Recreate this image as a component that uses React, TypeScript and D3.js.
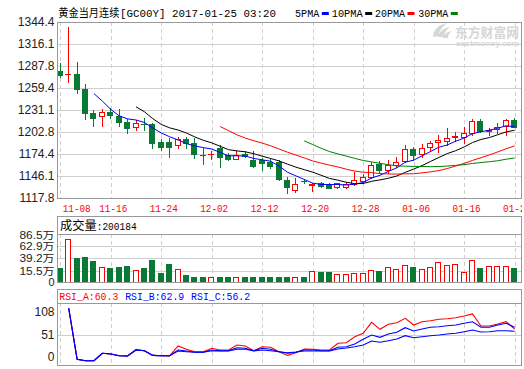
import React from "react";
import * as d3 from "d3";

// ---------- DATA ----------
const dates = ["11-08","11-09","11-10","11-11","11-14","11-15","11-16","11-17","11-18","11-21","11-22","11-23","11-24","11-25","11-28","11-29","11-30","12-01","12-02","12-05","12-06","12-07","12-08","12-09","12-12","12-13","12-14","12-15","12-16","12-19","12-20","12-21","12-22","12-23","12-26","12-27","12-28","12-29","12-30","01-03","01-04","01-05","01-06","01-09","01-10","01-11","01-12","01-13","01-16","01-17","01-18","01-19","01-20","01-23","01-24"];

const openVals = [1281.3,1277.0,1277.5,1258.1,1226.8,1223.4,1228.9,1223.4,1215.3,1208.8,1212.9,1212.7,1189.9,1189.9,1186.0,1193.8,1188.2,1173.4,1174.2,1182.6,1173.2,1168.4,1174.4,1166.7,1166.7,1164.5,1164.5,1141.0,1128.1,1140.0,1135.0,1136.7,1135.4,1131.6,1131.6,1135.8,1140.1,1144.5,1161.2,1153.9,1160.3,1165.8,1180.9,1174.1,1183.1,1189.5,1191.6,1195.9,1195.9,1201.9,1217.3,1204.0,1206.2,1210.5,1218.2];
const closeVals = [1276.2,1277.8,1258.1,1227.6,1221.2,1228.1,1224.7,1216.0,1208.3,1214.0,1212.5,1189.0,1183.8,1183.8,1193.4,1189.0,1174.1,1173.0,1174.8,1171.0,1168.4,1173.2,1171.9,1159.0,1162.5,1159.0,1142.3,1132.3,1135.4,1139.2,1135.6,1133.6,1131.1,1136.7,1135.4,1141.0,1144.5,1160.3,1153.9,1160.3,1164.5,1180.5,1173.2,1181.8,1188.2,1192.5,1194.7,1197.6,1201.9,1216.9,1204.5,1205.0,1209.6,1218.2,1209.6];
const highVals = [1292.0,1338.3,1292.9,1264.6,1231.1,1232.0,1233.3,1232.0,1219.1,1218.2,1220.4,1214.0,1193.8,1194.7,1196.7,1196.7,1194.7,1181.8,1178.7,1186.0,1176.1,1178.7,1178.3,1178.3,1168.9,1167.6,1166.7,1145.2,1143.2,1141.9,1136.7,1138.8,1136.7,1137.5,1138.8,1151.7,1148.7,1164.5,1165.8,1166.7,1170.2,1186.0,1183.8,1187.3,1191.6,1198.9,1207.5,1203.2,1208.8,1219.1,1219.1,1207.5,1214.7,1219.5,1221.2];
const lowVals = [1273.2,1267.5,1252.6,1219.1,1210.9,1210.9,1220.4,1210.9,1201.9,1205.4,1205.4,1181.8,1179.6,1171.0,1182.6,1181.8,1168.9,1161.2,1167.6,1158.1,1166.7,1167.6,1171.0,1158.1,1153.9,1156.0,1141.0,1124.6,1125.9,1137.5,1127.2,1132.3,1130.3,1131.1,1130.3,1134.5,1136.7,1144.0,1151.7,1149.6,1158.1,1164.5,1166.7,1171.0,1178.7,1177.4,1186.0,1191.6,1188.2,1198.9,1203.2,1198.9,1201.1,1198.9,1208.8];

// volume in 万 (as drawn)
const volumeVals = [21.4,76.8,40.7,42.6,34.3,22.7,21.4,22.2,24.7,16.9,20.8,36.3,11.7,28.5,18.9,7.3,3.4,3.4,3.4,3.4,3.4,3.4,3.4,3.4,3.4,3.4,3.4,3.4,2.8,4.0,14.4,12.5,12.5,9.2,9.2,10.6,11.2,16.4,14.4,22.7,18.9,26.0,22.7,18.9,22.7,31.8,26.6,28.0,12.5,35.7,21.4,24.7,24.7,24.7,21.4];
const lastVolume = 200184;

const rsiA = [null,116.6,-10.3,-13.8,-13.8,4.6,2.9,-1.4,-2.1,14.6,11.1,-0.6,-1.4,-1.8,22.8,14.6,8.6,8.6,17.0,12.8,12.8,25.2,22.8,11.1,21.0,19.5,8.6,-0.6,6.1,15.3,14.6,12.8,12.8,29.5,31.0,45.9,54.4,81.7,64.3,76.8,80.7,91.7,75.0,83.2,85.7,89.2,90.7,93.2,97.4,102.4,72.5,72.5,77.5,83.2,65.1];
const rsiB = [null,116.6,-10.3,-13.8,-13.8,4.6,2.9,-1.4,-2.1,12.8,11.1,-0.6,-1.4,-1.4,12.8,10.3,7.1,7.1,12.8,11.1,11.1,18.5,17.0,11.1,17.0,14.6,8.6,4.6,7.1,12.8,12.8,11.1,11.1,19.5,21.0,27.7,39.4,50.1,44.4,52.6,56.8,68.3,60.1,65.1,69.3,70.8,73.3,75.0,79.2,83.2,69.3,69.3,75.0,79.2,69.3];
const rsiC = [null,116.6,-10.3,-13.8,-13.8,4.6,2.9,-1.4,-2.1,12.8,11.1,-0.6,-1.4,-1.4,10.3,8.6,7.1,7.1,11.1,10.3,10.3,14.6,14.6,10.3,12.8,11.1,8.6,6.1,7.8,10.3,10.3,10.3,10.3,15.3,17.8,21.0,25.2,35.2,32.0,36.0,40.2,48.4,43.4,45.9,48.4,50.1,52.6,54.4,58.3,62.6,57.6,58.3,60.8,60.8,59.3];
const rsiNames = ["RSI_A", "RSI_B", "RSI_C"];
const rsiLast = [60.3, 62.9, 56.2];
const rsiColors = ["#ff0000", "#0000ff", "#0000ff"];

const priceTicks = [1117.8,1146.1,1174.4,1202.8,1231.1,1259.4,1287.8,1316.1,1344.4];
const volTicks = [86.5, 62.9, 39.2, 15.5];
const rsiTicks = [108, 51, 0];

const maNames = ["5PMA", "10PMA", "20PMA", "30PMA"];
const maPeriods = [5, 10, 20, 30];
const maColors = ["#0000ff", "#000000", "#ff0000", "#008000"];

const titleName = "黄金当月连续";
const titleInfo = "[GC00Y] 2017-01-25 03:20";

// ---------- LAYOUT ----------
const W = 524, H = 369;
const xL = 57, xR = 521;
const RED = "#ff0000";
const GREEN = "#087a36";
const FRAME = "#999999";
const GRID = "#cfcfcf";
const AXIS_FONT = "'Liberation Sans', Arial, sans-serif";
const MONO = "'Liberation Mono', 'DejaVu Sans Mono', monospace";
const CJK = "'Noto Sans CJK SC', sans-serif";

const c = (v: number) => Math.round(v) + 0.5;

export default function App() {
  const n = dates.length;
  const x = d3.scaleLinear().domain([0, n - 1]).range([60.3, 514.6]);
  const y = d3.scaleLinear().domain([1117.8, 1344.4]).range([198, 22]);
  const yV = d3.scaleLinear().domain([-8.17, 86.5]).range([283, 234]);
  const yR = d3.scaleLinear().domain([-27, 129]).range([366, 303.3]);

  const maSeries = maPeriods.map((p) =>
    closeVals.map((_, i) => (i < p - 1 ? null : (d3.mean(closeVals.slice(i - p + 1, i + 1)) as number)))
  );

  const line = d3
    .line<number | null>()
    .defined((d) => d !== null)
    .x((_, i) => x(i))
    .y((d) => y(d as number));
  const rline = d3
    .line<number | null>()
    .defined((d) => d !== null)
    .x((_, i) => x(i))
    .y((d) => yR(d as number));

  const tickIdx = dates.map((_, i) => i).filter((i) => i % 6 === 0);

  const vGrid = (top: number, bottom: number, key: string) =>
    tickIdx.map((i) => (
      <line key={key + i} x1={c(x(i))} x2={c(x(i))} y1={top} y2={bottom} stroke={GRID} strokeDasharray="4,3" shapeRendering="crispEdges" />
    ));

  // legend layout
  const legendX = [295, 331.7, 375, 418.3];
  const legendLen = [24.3, 31, 30, 30];

  return (
    <svg width={W} height={H} style={{ position: "absolute", left: 0, top: 0, background: "#fff" }}>
      <defs>
        <clipPath id="clipAll">
          <rect x={0} y={0} width={522} height={H} />
        </clipPath>
      </defs>
      <rect x={0} y={0} width={W} height={H} fill="#fff" />

      {/* Title */}
      <text x={58.3} y={17} fontFamily={CJK} fontSize={11.5} fill="#000" textLength={61} lengthAdjust="spacingAndGlyphs">{titleName}</text>
      <text x={120} y={16.7} fontFamily={MONO} fontSize={11.5} fill="#000" textLength={156} lengthAdjust="spacingAndGlyphs">{titleInfo}</text>
      {maNames.map((nm, k) => (
        <g key={nm}>
          <text x={legendX[k]} y={16.7} fontFamily={MONO} fontSize={11.5} fill="#000" textLength={legendLen[k]} lengthAdjust="spacingAndGlyphs">{nm}</text>
          <rect x={legendX[k] + legendLen[k] + 2.5} y={12} width={7} height={3} fill={maColors[k]} />
        </g>
      ))}

      {/* ===== Main price panel ===== */}
      {priceTicks.slice(1, -1).map((t) => (
        <line key={"hg" + t} x1={xL} x2={xR} y1={c(y(t))} y2={c(y(t))} stroke={GRID} shapeRendering="crispEdges" />
      ))}
      {vGrid(22, 198, "mg")}

      {/* watermark */}
      <g fill="#d6d6d6">
        <path d="M433,37 C433,30 438,25 447,23 C442,27 439,31 439,36 Z" />
        <path d="M438,37 C439,32 443,28 450,27 C446,30 444,33 444,37 Z" />
        <path d="M443,38 C444,34 447,32 452,31 C449,33 448,35 448,38 Z" />
        <text x={455} y={36.5} fontFamily={CJK} fontWeight="bold" fontSize={13} textLength={64} lengthAdjust="spacingAndGlyphs">东方财富网</text>
        <text x={456} y={46} fontFamily={AXIS_FONT} fontWeight="bold" fontSize={7} textLength={63} lengthAdjust="spacingAndGlyphs">eastmoney.com</text>
      </g>

      {/* candles */}
      {dates.map((d, i) => {
        const o = openVals[i], cl = closeVals[i];
        const up = cl >= o;
        const col = up ? RED : GREEN;
        const px = Math.floor(x(i));
        const wx = px + 0.5;
        const yt = Math.round(y(Math.max(o, cl)));
        const yb = Math.round(y(Math.min(o, cl)));
        const hi = Math.round(y(highVals[i]));
        const lo = Math.round(y(lowVals[i]));
        const h = yb - yt;
        return (
          <g key={"c" + d} shapeRendering="crispEdges">
            <line x1={wx} x2={wx} y1={hi} y2={lo + 1} stroke={col} />
            {h < 1 ? (
              <line x1={px - 3} x2={px + 3} y1={yt + 0.5} y2={yt + 0.5} stroke={col} />
            ) : up ? (
              <rect x={px - 2.5} y={yt + 0.5} width={5} height={h} fill="#fff" stroke={col} />
            ) : (
              <rect x={px - 3} y={yt} width={6} height={h + 1} fill={col} />
            )}
          </g>
        );
      })}

      {/* moving averages */}
      {maSeries.map((s, k) => (
        <path key={"ma" + k} d={line(s) || ""} fill="none" stroke={maColors[k]} strokeWidth={1} />
      ))}

      <rect x={xL + 0.5} y={22.5} width={xR - xL} height={176} fill="none" stroke={FRAME} shapeRendering="crispEdges" />
      {priceTicks.map((t) => (
        <text key={"pt" + t} x={54.5} y={y(t)} dy="0.36em" textAnchor="end" fontFamily={AXIS_FONT} fontSize={12} fill="#222">
          {t.toFixed(1)}
        </text>
      ))}

      {/* date labels */}
      <g clipPath="url(#clipAll)">
        {tickIdx.map((i, k) => {
          const cx = k === 0 ? 76.7 : x(i) + 2.5;
          return (
            <text key={"dt" + i} x={cx} y={212.3} textAnchor="middle" fontFamily={MONO} fontSize={11} fill={RED} textLength={28} lengthAdjust="spacingAndGlyphs">
              {dates[i]}
            </text>
          );
        })}
      </g>

      {/* ===== Volume panel ===== */}
      {volTicks.slice(1).map((t) => (
        <line key={"vg" + t} x1={xL} x2={xR} y1={c(yV(t))} y2={c(yV(t))} stroke={GRID} shapeRendering="crispEdges" />
      ))}
      {vGrid(234, 283, "vv")}
      {volumeVals.map((v, i) => {
        const up = closeVals[i] >= openVals[i];
        const px = Math.floor(x(i));
        const top = Math.round(yV(v));
        const bot = 283;
        return up ? (
          <rect key={"vb" + i} x={px - 2.5} y={top + 0.5} width={5} height={bot - top - 1} fill="#fff" stroke={RED} shapeRendering="crispEdges" />
        ) : (
          <rect key={"vb" + i} x={px - 3} y={top} width={6} height={bot - top} fill={GREEN} shapeRendering="crispEdges" />
        );
      })}
      <rect x={xL + 0.5} y={216.5} width={xR - xL} height={66} fill="none" stroke={FRAME} shapeRendering="crispEdges" />
      <line x1={xL} x2={xR} y1={234.5} y2={234.5} stroke={FRAME} shapeRendering="crispEdges" />
      <text x={60} y={229.5} fontFamily={CJK} fontSize={12} fill="#000" textLength={36.7} lengthAdjust="spacingAndGlyphs">成交量</text>
      <text x={96.7} y={229.5} fontFamily={MONO} fontSize={11.5} fill="#000" textLength={40} lengthAdjust="spacingAndGlyphs">{":" + lastVolume}</text>
      {volTicks.map((t, k) => (
        <text key={"vt" + t} x={54.5} y={yV(t) + (k === 0 ? 1.5 : 0)} dy="0.36em" textAnchor="end" fontFamily={AXIS_FONT} fontSize={10.5} fill="#222" textLength={35} lengthAdjust="spacingAndGlyphs">
          {t.toFixed(1)}
          <tspan fontFamily={CJK}>万</tspan>
        </text>
      ))}
      <text x={54.5} y={282.5} dy="0.36em" textAnchor="end" fontFamily={AXIS_FONT} fontSize={11} fill="#222">0</text>

      {/* ===== RSI panel ===== */}
      <line x1={xL} x2={xR} y1={c(yR(51))} y2={c(yR(51))} stroke={GRID} shapeRendering="crispEdges" />
      {vGrid(303, 366, "rv")}
      {[rsiA, rsiB, rsiC].map((s, k) => (
        <path key={"rsi" + k} d={rline(s) || ""} fill="none" stroke={rsiColors[k]} strokeWidth={1.1} />
      ))}
      <rect x={xL + 0.5} y={289.5} width={xR - xL} height={76} fill="none" stroke={FRAME} shapeRendering="crispEdges" />
      <line x1={xL} x2={xR} y1={303.5} y2={303.5} stroke={FRAME} shapeRendering="crispEdges" />
      {rsiNames.map((nm, k) => (
        <text key={nm} x={59.3 + k * 65.9} y={299.5} fontFamily={MONO} fontSize={11.5} fill={rsiColors[k]} textLength={59} lengthAdjust="spacingAndGlyphs">
          {nm + ":" + rsiLast[k].toFixed(1)}
        </text>
      ))}
      {rsiTicks.map((t) => (
        <text key={"rt" + t} x={54.5} y={yR(t) + (t === 0 ? 1.5 : 0)} dy="0.36em" textAnchor="end" fontFamily={AXIS_FONT} fontSize={12} fill="#222">
          {t}
        </text>
      ))}
    </svg>
  );
}
